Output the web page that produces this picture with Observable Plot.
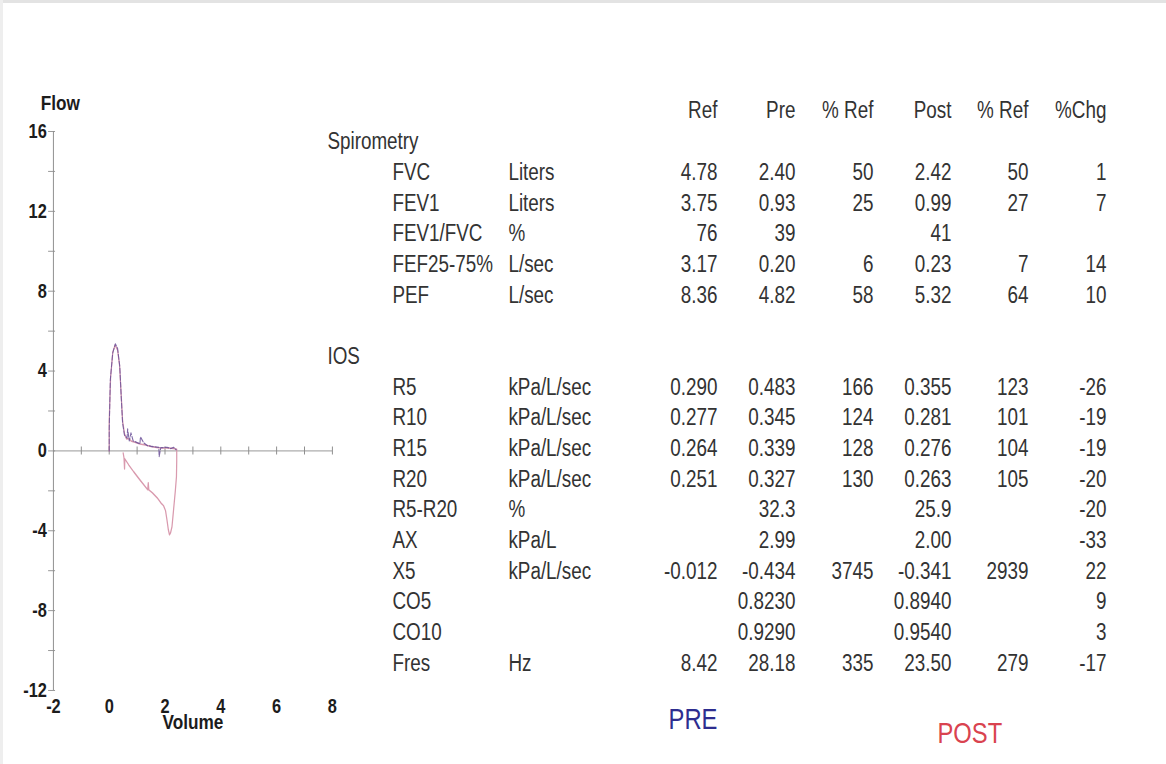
<!DOCTYPE html>
<html><head><meta charset="utf-8">
<script src="https://cdn.jsdelivr.net/npm/d3@7"></script>
<script src="https://cdn.jsdelivr.net/npm/@observablehq/plot@0.6"></script>
<style>
html,body{margin:0;padding:0;background:#fff;}
#wrap{position:relative;width:1166px;height:764px;overflow:hidden;background:#fff;}
#topedge{position:absolute;left:0;top:0;width:1166px;height:3px;background:#e3e3e3;}
#leftedge{position:absolute;left:0;top:0;width:3px;height:764px;background:#eeeeee;}
#chart{position:absolute;left:0;top:0;width:415px;transform-origin:0 0;}
#table{position:absolute;left:320px;top:0;width:1032px;transform-origin:0 0;}
#wrap svg{max-width:none !important;}
</style></head>
<body><div id="wrap"><div id="topedge"></div><div id="leftedge"></div><div id="chart"></div><div id="table"></div></div>
<script>
const FONT = '"Liberation Sans Narrow", "Arial Narrow", "Liberation Sans", Arial, sans-serif';
const SX = 0.82; // horizontal condensing to imitate a narrow typeface

// ---- Flow-volume curves ----
const preVolume = [0, 0, 0.04, 0.125, 0.22, 0.30, 0.38, 0.43, 0.48, 0.545, 0.64, 0.66, 0.72, 0.78, 0.86, 1.0, 1.1, 1.12, 1.24, 1.36, 1.54, 1.78, 1.79, 1.85, 2.07, 2.2, 2.31, 2.40];
const preFlow   = [0, 1.05, 3.56, 4.9, 5.36, 5.14, 4.22, 2.72, 1.4, 0.8, 0.64, 1.1, 0.5, 0.9, 0.5, 0.42, 0.35, 0.7, 0.4, 0.27, 0.22, 0.18, -0.28, 0.16, 0.18, 0.12, 0.18, 0.06];

const postVolume = [0, 0, 0.05, 0.13, 0.21, 0.30, 0.37, 0.43, 0.48, 0.55, 0.62, 0.70, 0.80, 0.95, 1.10, 1.30, 1.50, 1.70, 1.90, 2.10, 2.30, 2.42,
                    2.42, 2.41, 2.37, 2.34, 2.29, 2.25, 2.20, 2.16, 2.12, 2.07, 2.02, 1.95, 1.85, 1.72, 1.55, 1.42, 1.40, 1.38, 1.10, 0.88, 0.70, 0.56, 0.55, 0.53, 0.50];
const postFlow   = [0, 1.5, 3.7, 4.95, 5.3, 5.05, 4.3, 2.8, 1.5, 0.85, 0.6, 0.62, 0.48, 0.42, 0.35, 0.3, 0.22, 0.17, 0.15, 0.14, 0.12, 0.08,
                    -0.5, -1.3, -2.0, -2.45, -3.2, -3.8, -4.1, -4.2, -3.95, -3.45, -3.0, -2.75, -2.6, -2.35, -2.1, -1.95, -1.6, -1.95, -1.45, -1.05, -0.7, -0.4, -0.9, -0.35, -0.1];

const yLabelTicks = [-12, -8, -4, 0, 4, 8, 12, 16];
const yMinorTicks = [-10, -6, -2, 2, 6, 10, 14];
const xLabelTicks = [-2, 0, 2, 4, 6, 8];
const xMinorTicks = [-1, 0, 1, 2, 3, 4, 5, 6, 7, 8];
const yAxisTitle = "Flow";
const xAxisTitle = "Volume";

// ---- Table ----
const headers = ["Ref", "Pre", "% Ref", "Post", "% Ref", "%Chg"];
const sectionNames = ["Spirometry", "IOS"];
const spiroParams = ["FVC", "FEV1", "FEV1/FVC", "FEF25-75%", "PEF"];
const spiroUnits  = ["Liters", "Liters", "%", "L/sec", "L/sec"];
const spiroRef    = ["4.78", "3.75", "76", "3.17", "8.36"];
const spiroPre    = ["2.40", "0.93", "39", "0.20", "4.82"];
const spiroPreRef = ["50", "25", "", "6", "58"];
const spiroPost   = ["2.42", "0.99", "41", "0.23", "5.32"];
const spiroPostRef= ["50", "27", "", "7", "64"];
const spiroChg    = ["1", "7", "", "14", "10"];

const iosParams = ["R5", "R10", "R15", "R20", "R5-R20", "AX", "X5", "CO5", "CO10", "Fres"];
const iosUnits  = ["kPa/L/sec", "kPa/L/sec", "kPa/L/sec", "kPa/L/sec", "%", "kPa/L", "kPa/L/sec", "", "", "Hz"];
const iosRef    = ["0.290", "0.277", "0.264", "0.251", "", "", "-0.012", "", "", "8.42"];
const iosPre    = ["0.483", "0.345", "0.339", "0.327", "32.3", "2.99", "-0.434", "0.8230", "0.9290", "28.18"];
const iosPreRef = ["166", "124", "128", "130", "", "", "3745", "", "", "335"];
const iosPost   = ["0.355", "0.281", "0.276", "0.263", "25.9", "2.00", "-0.341", "0.8940", "0.9540", "23.50"];
const iosPostRef= ["123", "101", "104", "105", "", "", "2939", "", "", "279"];
const iosChg    = ["-26", "-19", "-19", "-20", "-20", "-33", "22", "9", "3", "-17"];

const legendLabels = ["PRE", "POST"];
const legendColors = ["#2d2d8f", "#d9434f"];

// ---- build chart ----
const pre = preVolume.map((v, i) => ({v, f: preFlow[i]}));
const post = postVolume.map((v, i) => ({v, f: postFlow[i]}));
const axisGrey = "#8e8e8e";
const tickFont = {fontSize: 20, fontWeight: "bold", fill: "#1c1c1c"};

const chart = Plot.plot({
  width: 340 / SX, height: 764,
  marginLeft: 53 / SX, marginRight: 8 / SX, marginTop: 131, marginBottom: 74,
  x: {domain: [-2, 8], axis: null},
  y: {domain: [-12, 16], axis: null},
  style: {fontFamily: FONT, background: "transparent", overflow: "visible"},
  marks: [
    Plot.ruleX([-2], {y1: -12, y2: 16, stroke: axisGrey, strokeWidth: 1.2}),
    Plot.ruleY([0], {x1: -2, x2: 8, stroke: axisGrey}),
    Plot.ruleY([...yLabelTicks, ...yMinorTicks], {y: d => d, x1: -2, x2: -2, insetLeft: -6, insetRight: -2.5, stroke: axisGrey}),
    Plot.ruleX(xMinorTicks, {x: d => d, y1: 0, y2: 0, insetTop: -4, insetBottom: -4, stroke: axisGrey, strokeWidth: 1.2}),
    Plot.axisY(yLabelTicks, {anchor: "left", label: null, tickSize: 0, tickPadding: 8, tickFormat: d => String(d), ...tickFont}),
    Plot.axisX(xLabelTicks, {anchor: "bottom", label: null, tickSize: 0, tickPadding: 8, tickFormat: d => String(d), ...tickFont}),
    Plot.line(post, {x: "v", y: "f", stroke: "#d99aae", strokeWidth: 1.5, curve: "linear"}),
    Plot.line(pre, {x: "v", y: "f", stroke: "#6a4f98", strokeWidth: 1.3, strokeOpacity: 0.85, strokeDasharray: "5,2"}),
    Plot.text([yAxisTitle], {frameAnchor: "top-left", dx: 7 / SX, dy: -28, textAnchor: "middle", lineAnchor: "middle", fontSize: 21, fontWeight: "bold", fill: "#1c1c1c"}),
    Plot.text([xAxisTitle], {frameAnchor: "bottom", dy: 32, textAnchor: "middle", lineAnchor: "middle", fontSize: 21, fontWeight: "bold", fill: "#1c1c1c"})
  ]
});
const chartDiv = document.getElementById("chart");
chartDiv.style.transform = `scaleX(${SX})`;
chartDiv.appendChild(chart);

// ---- build table ----
// columns: 0 section, 1 parameter, 2 unit, 3 Ref, 4 Pre, 5 %Ref, 6 Post, 7 %Ref, 8 %Chg
const cells = [];
headers.forEach((h, j) => cells.push({col: 3 + j, row: 0, text: h}));
cells.push({col: 0, row: 1, text: sectionNames[0]});
spiroParams.forEach((p, i) => {
  const row = 2 + i;
  [p, spiroUnits[i], spiroRef[i], spiroPre[i], spiroPreRef[i], spiroPost[i], spiroPostRef[i], spiroChg[i]]
    .forEach((t, j) => { if (t) cells.push({col: 1 + j, row, text: t}); });
});
cells.push({col: 0, row: 8, text: sectionNames[1]});
iosParams.forEach((p, i) => {
  const row = 9 + i;
  [p, iosUnits[i], iosRef[i], iosPre[i], iosPreRef[i], iosPost[i], iosPostRef[i], iosChg[i]]
    .forEach((t, j) => { if (t) cells.push({col: 1 + j, row, text: t}); });
});
const legendAt = [{col: 3, row: 19.84}, {col: 6.66, row: 20.3}];
const legend = legendLabels.map((t, i) => ({text: t, color: legendColors[i], ...legendAt[i]}));

const colRange = [7, 72, 188, 397, 475, 553, 631, 708, 786].map(v => v / SX);
const table = Plot.plot({
  width: 846 / SX, height: 764, margin: 0,
  x: {type: "linear", domain: [0, 1, 2, 3, 4, 5, 6, 7, 8], range: colRange, axis: null},
  y: {type: "linear", domain: [0, 18], range: [110.6, 663], axis: null},
  style: {fontFamily: FONT, background: "transparent", overflow: "visible"},
  marks: [
    Plot.text(cells.filter(d => d.col < 3), {x: "col", y: "row", text: "text", textAnchor: "start", fontSize: 23, fill: "#333"}),
    Plot.text(cells.filter(d => d.col >= 3), {x: "col", y: "row", text: "text", textAnchor: "end", fontSize: 23, fill: "#333"}),
    Plot.text(legend, {x: "col", y: "row", text: "text", fill: "color", textAnchor: "end", fontSize: 29})
  ]
});
const tableDiv = document.getElementById("table");
tableDiv.style.transform = `scaleX(${SX})`;
tableDiv.appendChild(table);
</script>
</body></html>
